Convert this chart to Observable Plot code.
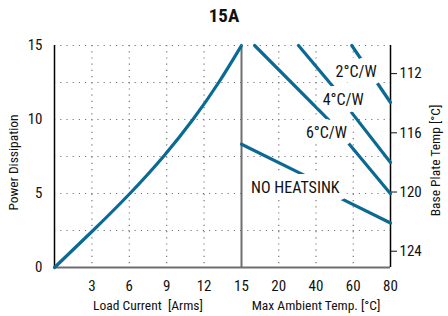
<!DOCTYPE html>
<html>
<head>
<meta charset="utf-8">
<script src="https://cdn.jsdelivr.net/npm/d3@7"></script>
<script src="https://cdn.jsdelivr.net/npm/@observablehq/plot@0.6"></script>
<style>
  body { margin: 0; background: #fff; }
  #wrap { width: 448px; height: 316px; position: relative; font-family: "Roboto Condensed", "Noto Sans Condensed", "Liberation Sans Narrow", "DejaVu Sans Condensed", sans-serif; color: #111; }
  #title { height: 30px; line-height: 32px; text-align: center; font-weight: bold; font-size: 19px; }
  #row { display: flex; width: 448px; }
  #row svg { flex-shrink: 0; overflow: visible; }
</style>
</head>
<body>
<div id="wrap">
  <div id="title">15A</div>
  <div id="row"></div>
</div>
<script>
// ---- data ----
const loadCurrent = [0, 3.09, 6.05, 8.74, 11.1, 13.17, 15];      // A rms
const powerDissipation = [0, 2.5, 5, 7.5, 10, 12.5, 15];          // W

const curveNames = ["2°C/W", "4°C/W", "6°C/W", "NO HEATSINK"];
const curveAmbient = [
  [59.2, 80],
  [30.6, 50, 58, 80],
  [7.05, 47.3, 57.9, 80],
  [0, 34.1, 50, 80]
];
const curvePower = [
  [15, 11.15],
  [15, 12.1, 10.65, 7.1],
  [15, 9.91, 8.33, 4.98],
  [8.33, 6.21, 4.87, 3.01]
];
const labelAmbient = [61.5, 54.6, 45.6, 28.9];
const labelPower = [13.24, 11.3, 9.09, 5.37];

const currentTicks = [3, 6, 9, 12, 15];
const powerTicks = [0, 5, 10, 15];
const powerGrid = [2.5, 5, 7.5, 10, 12.5, 15];
const ambientTicks = [20, 40, 60, 80];
const ambientGrid = [20, 40, 60];
const basePlateTicks = [112, 116, 120, 124];
const basePlateOffset = 125.1; // base plate temp = offset - power (as read on the right axis)

// ---- build tables ----
const leftCurve = loadCurrent.map((c, i) => ({current: c, power: powerDissipation[i]}));
const rightCurves = curveNames.flatMap((name, k) =>
  curveAmbient[k].map((t, i) => ({name, temp: t, power: curvePower[k][i]})));
const rightLabels = curveNames.map((name, k) => ({name, temp: labelAmbient[k], power: labelPower[k]}));

const font = '"Roboto Condensed", "Noto Sans Condensed", "Liberation Sans Narrow", "DejaVu Sans Condensed", sans-serif';
const blue = "#0b6a94";
const H = 286, MT = 15, MB = 49;
const dotted = {stroke: "#777", strokeOpacity: 1, strokeWidth: 1.2, strokeDasharray: "1.2,5"};
const baseStyle = {fontFamily: font, fontSize: "15px", background: "none", color: "#111", overflow: "visible"};

const left = Plot.plot({
  width: 241, height: H,
  marginLeft: 54, marginRight: 0, marginTop: MT, marginBottom: MB,
  style: baseStyle,
  x: {domain: [0, 15]},
  y: {domain: [0, 15]},
  marks: [
    Plot.gridY(powerGrid, dotted),
    Plot.gridX(currentTicks.filter(d => d < 15), dotted),
    Plot.ruleY([0], {stroke: "#6e6e6e", strokeWidth: 2}),
    Plot.ruleX([0], {stroke: "#000", strokeWidth: 1.5}),
    Plot.ruleX([15], {stroke: "#6e6e6e", strokeWidth: 2}),
    Plot.axisX(currentTicks, {tickSize: 0, tickPadding: 13, label: null}),
    Plot.axisY(powerTicks, {tickSize: 0, tickPadding: 12, label: null}),
    Plot.line(leftCurve, {x: "current", y: "power", curve: "natural", stroke: blue, strokeWidth: 3.2}),
    Plot.text(["Load Current  [Arms]"], {frameAnchor: "bottom", dy: 42, fontSize: 13.5}),
    Plot.text(["Power Dissipation"], {frameAnchor: "left", textAnchor: "middle", rotate: -90, dx: -41, dy: 6, fontSize: 13.5})
  ]
});

const right = Plot.plot({
  width: 207, height: H,
  marginLeft: 0, marginRight: 58, marginTop: MT, marginBottom: MB,
  style: baseStyle,
  x: {domain: [0, 80]},
  y: {domain: [0, 15]},
  marks: [
    Plot.gridY(powerGrid, dotted),
    Plot.gridX(ambientGrid, dotted),
    Plot.ruleY([0], {stroke: "#6e6e6e", strokeWidth: 2}),
    Plot.ruleX([80], {stroke: "#000", strokeWidth: 1.5}),
    Plot.axisX(ambientTicks, {tickSize: 0, tickPadding: 13, label: null}),
    Plot.axisY(basePlateTicks.map(t => basePlateOffset - t), {
      anchor: "right", tickSize: 6, tickPadding: 3, label: null,
      tickFormat: p => String(Math.round(basePlateOffset - p))
    }),
    Plot.line(rightCurves, {x: "temp", y: "power", z: "name", stroke: blue, strokeWidth: 3.2}),
    Plot.text(rightLabels, {x: "temp", y: "power", text: "name", fill: "#111", stroke: "white", strokeWidth: 14, fontSize: 16}),
    Plot.text(["Max Ambient Temp. [°C]"], {frameAnchor: "bottom", dy: 42, fontSize: 13.5}),
    Plot.text(["Base Plate Temp [°C]"], {frameAnchor: "right", textAnchor: "middle", rotate: -90, dx: 45, dy: 4, fontSize: 13.5})
  ]
});

document.getElementById("row").append(left, right);
</script>
</body>
</html>
